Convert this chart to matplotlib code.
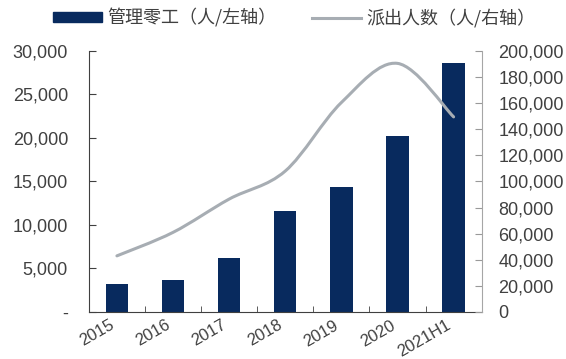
import numpy as np
import matplotlib
matplotlib.use('Agg')
import matplotlib.pyplot as plt
from matplotlib.path import Path
from matplotlib.patches import PathPatch, Patch
from matplotlib.lines import Line2D
from matplotlib.ticker import FuncFormatter, FixedLocator

plt.rcParams['font.family'] = ['Liberation Sans', 'Noto Sans CJK SC', 'DejaVu Sans']

# 数据
years = ['2015', '2016', '2017', '2018', '2019', '2020', '2021H1']
workers = [3200, 3700, 6200, 11600, 14400, 20200, 28600]          # 管理零工（人）
dispatched = [43000, 61000, 86500, 108000, 160500, 190500, 149500]  # 派出人数（人）

bar_color = '#082a5e'
line_color = '#a7adb3'
text_color = '#404040'

fig = plt.figure(figsize=(5.66, 3.59), dpi=100)
ax = fig.add_axes([0.157, 0.131, 0.694, 0.727])
ax2 = ax.twinx()

x = np.arange(len(years))
ax.bar(x, workers, width=0.4, color=bar_color, zorder=2)
ax.set_xlim(-0.5, len(years) - 0.5)
ax.set_ylim(0, 30000)
ax.set_yticks(range(0, 30001, 5000))
ax.yaxis.set_major_formatter(FuncFormatter(lambda v, p: '-' if v == 0 else '{:,.0f}'.format(v)))

# 平滑曲线：用三次贝塞尔连接各点
pts = np.column_stack([x, dispatched]).astype(float)
verts = [tuple(pts[0])]
codes = [Path.MOVETO]
n = len(pts)
for i in range(n - 1):
    p0 = pts[max(i - 1, 0)]
    p1 = pts[i]
    p2 = pts[i + 1]
    p3 = pts[min(i + 2, n - 1)]
    c1 = p1 + (p2 - p0) / 6.0
    c2 = p2 - (p3 - p1) / 6.0
    verts += [tuple(c1), tuple(c2), tuple(p2)]
    codes += [Path.CURVE4] * 3
ax2.add_patch(PathPatch(Path(verts, codes), facecolor='none', edgecolor=line_color,
                        lw=2.2, capstyle='round', zorder=3))
ax2.set_ylim(0, 200000)
ax2.set_yticks(range(0, 200001, 20000))
ax2.yaxis.set_major_formatter(FuncFormatter(lambda v, p: '{:,.0f}'.format(v)))

# x轴：标签在柱中间，刻度在分隔处
ax.set_xticks(x)
ax.set_xticklabels(years, rotation=30, ha='right')
ax.xaxis.set_minor_locator(FixedLocator(np.arange(0.5, len(years) - 1, 1)))
ax.tick_params(axis='x', which='major', length=0, pad=4, labelsize=12, labelcolor=text_color)
ax.tick_params(axis='x', which='minor', direction='in', length=4, color=text_color)
ax.tick_params(axis='y', direction='in', length=5, pad=15, labelsize=13, labelcolor=text_color, color=text_color)
ax2.tick_params(axis='y', direction='in', length=5, pad=12, labelsize=13, labelcolor=text_color, color='#999999')

for a in (ax, ax2):
    a.spines['top'].set_visible(False)
ax.spines['left'].set_color(text_color)
ax.spines['bottom'].set_color(text_color)
ax2.spines['left'].set_visible(False)
ax2.spines['bottom'].set_visible(False)
ax2.spines['right'].set_color('#a6a6a6')
ax.spines['right'].set_visible(False)

handles = [Patch(color=bar_color), Line2D([], [], color=line_color, lw=2.2)]
labels = ['管理零工（人/左轴）', '派出人数（人/右轴）']
fig.legend(handles, labels, loc='center left', bbox_to_anchor=(0.065, 0.95), ncol=2,
           frameon=False, handlelength=2.7, handleheight=0.5, handletextpad=0.3,
           columnspacing=2.0, prop={'family': ['Noto Sans CJK SC'], 'size': 13},
           labelcolor=text_color)

fig.savefig('out.png', dpi=100)
